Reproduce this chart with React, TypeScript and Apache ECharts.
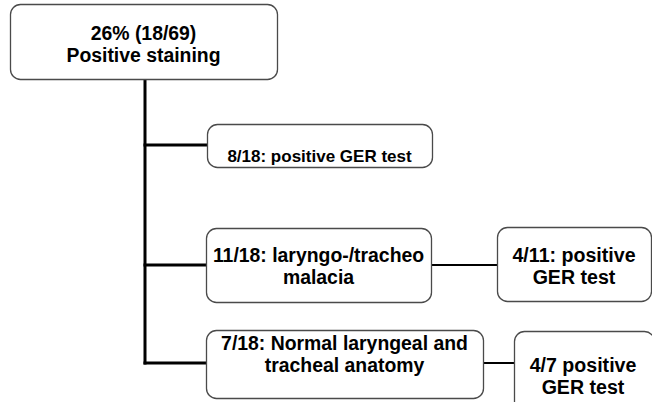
import React, { useEffect, useRef } from "react";
import * as echarts from "echarts";

// Node texts (flowchart content)
const rootLines = ["26% (18/69)", "Positive staining"];
const branchTexts = [
  ["8/18: positive GER test"],
  ["11/18: laryngo-/tracheo", "malacia"],
  ["7/18: Normal laryngeal and", "tracheal anatomy"],
];
const subTexts = [null, ["4/11: positive", "GER test"], ["4/7 positive", "GER test"]];

// Layout (positions and sizes)
const rootBox = { x: 10, y: 4, w: 267, h: 75 };
const trunkX = 145;
const branchBoxes = [
  { x: 207, y: 124, w: 225, h: 43, lineY: 145, textY: 156, font: 17 },
  { x: 206, y: 228, w: 225, h: 74, lineY: 265, textY: 255, font: 19.4 },
  { x: 206, y: 330, w: 277, h: 68, lineY: 363, textY: 343, font: 19.4 },
];
const subBoxes = [
  null,
  { x: 497, y: 227, w: 154, h: 74, textY: 255 },
  { x: 514, y: 331, w: 140, h: 92, textY: 365 },
];

const FONT = "'Liberation Sans', Arial, sans-serif";
const BORDER = "#4a4a4a";

export default function App() {
  const ref = useRef<HTMLDivElement>(null);
  useEffect(() => {
    if (!ref.current) return;
    const chart = echarts.init(ref.current, null, { renderer: "svg" });
    const els: any[] = [];
    const box = (b: any, z = 1) => ({
      type: "rect",
      z,
      shape: { x: b.x + 0.5, y: b.y + 0.5, width: b.w, height: b.h, r: 10 },
      style: { fill: "#fff", stroke: BORDER, lineWidth: 1.3 },
    });
    const txt = (lines: string[], cx: number, y0: number, size: number, lh = 22) =>
      lines.map((t, i) => ({
        type: "text",
        z: 5,
        x: cx,
        y: y0 + i * lh,
        style: {
          text: t,
          fill: "#000",
          font: `bold ${size}px ${FONT}`,
          textAlign: "center",
          textVerticalAlign: "middle",
        },
      }));
    const line = (x1: number, y1: number, x2: number, y2: number, w: number) => ({
      type: "line",
      z: 0,
      shape: { x1, y1, x2, y2 },
      style: { stroke: "#000", lineWidth: w },
    });

    // trunk
    els.push(line(trunkX, rootBox.y + rootBox.h, trunkX, branchBoxes[2].lineY + 1.5, 3));
    els.push(box(rootBox));
    els.push(...txt(rootLines, rootBox.x + rootBox.w / 2, 33, 19.4));

    branchTexts.forEach((lines, i) => {
      const b = branchBoxes[i];
      els.push(line(trunkX - 1.5, b.lineY, b.x, b.lineY, 3));
      els.push(box(b));
      els.push(...txt(lines, b.x + b.w / 2, b.textY, b.font));
      const s = subBoxes[i];
      const st = subTexts[i];
      if (s && st) {
        els.push(line(b.x + b.w, b.lineY, s.x, b.lineY, 2));
        els.push(box(s));
        els.push(...txt(st, s.x + s.w / 2 - (i === 2 ? 1 : 0), s.textY, 19.6));
      }
    });

    chart.setOption({
      animation: false,
      backgroundColor: "#fff",
      graphic: { elements: els },
    });
    return () => chart.dispose();
  }, []);
  return (
    <div
      ref={ref}
      style={{ position: "absolute", left: 0, top: 0, width: 652, height: 402 }}
    />
  );
}
